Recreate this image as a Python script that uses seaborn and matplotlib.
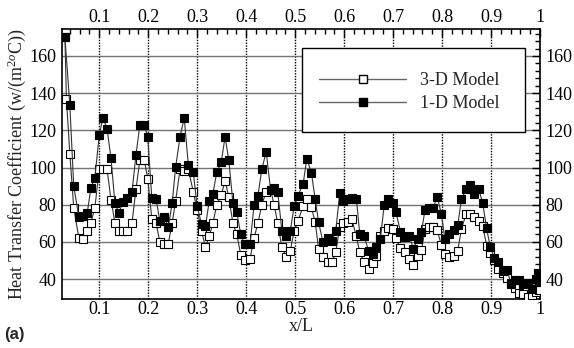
import matplotlib
matplotlib.use("Agg")
import matplotlib.pyplot as plt
import seaborn as sns
import pandas as pd
from matplotlib.ticker import MultipleLocator, FuncFormatter
from matplotlib.patches import Rectangle
from matplotlib.lines import Line2D

# ---------------- data ----------------
x_1d = [0.030, 0.040, 0.048, 0.0585, 0.0667, 0.0755, 0.083, 0.091, 0.100, 0.1075,
        0.116, 0.124, 0.132, 0.140, 0.148, 0.157, 0.167, 0.175, 0.183, 0.192,
        0.199, 0.2075, 0.216, 0.224, 0.233, 0.241, 0.249, 0.256, 0.265, 0.2735,
        0.282, 0.292, 0.300, 0.309, 0.317, 0.3245, 0.332, 0.340, 0.349, 0.357,
        0.3646, 0.373, 0.381, 0.389, 0.397, 0.408, 0.416, 0.424, 0.432, 0.441,
        0.450, 0.457, 0.4646, 0.473, 0.482, 0.490, 0.498, 0.5054, 0.5163, 0.5238,
        0.5333, 0.541, 0.548, 0.557, 0.5667, 0.575, 0.583, 0.591, 0.5986, 0.6075,
        0.6156, 0.625, 0.632, 0.641, 0.650, 0.658, 0.666, 0.674, 0.682, 0.690,
        0.6993, 0.706, 0.715, 0.724, 0.733, 0.7415, 0.750, 0.758, 0.7653, 0.774,
        0.782, 0.790, 0.7986, 0.806, 0.815, 0.824, 0.832, 0.8395, 0.849, 0.857,
        0.866, 0.8748, 0.883, 0.891, 0.8986, 0.9068, 0.915, 0.924, 0.9327, 0.941,
        0.949, 0.957, 0.966, 0.975, 0.9837, 0.9918, 0.9960, 0.9986]
h_1d = [170.0, 133.6, 89.9, 73.3, 73.8, 75.5, 89.0, 94.2, 117.4, 126.7,
        120.8, 105.1, 81.0, 75.5, 81.2, 83.6, 87.0, 106.6, 123.0, 123.0,
        116.5, 83.4, 83.0, 71.0, 73.3, 67.9, 80.9, 100.1, 116.5, 126.7,
        101.2, 97.4, 79.1, 69.5, 68.5, 81.8, 85.7, 97.4, 102.8, 116.5,
        103.9, 80.9, 75.8, 64.0, 58.6, 58.6, 79.6, 84.8, 99.2, 108.4,
        87.7, 89.0, 86.6, 65.8, 62.9, 65.8, 79.1, 84.8, 91.0, 104.8,
        97.1, 82.8, 70.5, 59.7, 62.0, 60.6, 66.0, 86.2, 81.9, 83.2,
        83.5, 83.2, 64.2, 62.9, 55.1, 53.4, 57.0, 61.5, 80.1, 83.2,
        80.8, 76.0, 65.4, 62.6, 62.9, 56.3, 61.7, 65.4, 77.4, 78.0,
        78.2, 84.4, 74.9, 61.3, 64.0, 66.3, 69.0, 82.8, 88.2, 90.5,
        85.5, 88.5, 80.8, 67.2, 57.0, 51.3, 49.1, 44.5, 44.7, 37.3,
        39.3, 39.3, 37.5, 37.7, 34.5, 39.8, 43.3, 38.6]

x_3d = [0.030, 0.033, 0.040, 0.048, 0.0585, 0.0667, 0.0755, 0.083, 0.091, 0.100,
        0.1075, 0.116, 0.124, 0.132, 0.140, 0.148, 0.157, 0.167, 0.175, 0.183,
        0.192, 0.199, 0.2075, 0.216, 0.224, 0.233, 0.241, 0.249, 0.256, 0.265,
        0.2735, 0.282, 0.292, 0.300, 0.309, 0.317, 0.3245, 0.332, 0.340, 0.349,
        0.357, 0.3646, 0.373, 0.381, 0.389, 0.397, 0.408, 0.416, 0.424, 0.432,
        0.441, 0.450, 0.457, 0.4646, 0.473, 0.482, 0.490, 0.498, 0.5054, 0.5163,
        0.5238, 0.5333, 0.541, 0.548, 0.557, 0.5667, 0.575, 0.583, 0.591, 0.5986,
        0.6075, 0.6156, 0.625, 0.632, 0.641, 0.650, 0.658, 0.666, 0.674, 0.682,
        0.690, 0.6993, 0.706, 0.715, 0.724, 0.733, 0.7415, 0.750, 0.758, 0.7653,
        0.774, 0.782, 0.790, 0.7986, 0.806, 0.815, 0.824, 0.832, 0.8395, 0.849,
        0.857, 0.866, 0.8748, 0.883, 0.891, 0.8986, 0.9068, 0.915, 0.924, 0.9327,
        0.941, 0.949, 0.957, 0.966, 0.975, 0.9837, 0.9918, 0.9986]
h_3d = [170.0, 137.0, 107.5, 78.2, 62.0, 61.3, 66.0, 70.4, 78.0, 99.2,
        99.2, 99.2, 82.7, 70.3, 65.8, 65.8, 65.8, 70.3, 88.2, 104.1,
        104.1, 94.0, 72.4, 70.3, 59.7, 58.8, 59.0, 70.3, 82.0, 99.0,
        98.0, 99.0, 87.0, 77.0, 66.0, 57.0, 63.0, 70.0, 80.0, 85.0,
        93.0, 84.0, 70.0, 64.0, 53.0, 50.0, 51.0, 62.0, 70.0, 80.0,
        87.0, 88.0, 80.0, 70.0, 57.0, 52.0, 55.0, 66.0, 71.0, 79.2,
        82.8, 78.5, 70.5, 56.1, 52.0, 49.0, 49.0, 54.3, 68.1, 70.0,
        70.8, 72.2, 63.0, 54.3, 49.3, 45.6, 48.4, 52.4, 63.1, 66.0,
        67.2, 66.7, 62.0, 56.7, 54.3, 50.6, 47.5, 52.4, 55.6, 66.7,
        68.1, 68.1, 66.3, 58.3, 53.4, 52.0, 52.4, 55.2, 67.0, 74.8,
        74.8, 73.5, 71.4, 68.5, 58.0, 53.8, 50.2, 45.6, 43.4, 40.4,
        37.7, 35.0, 32.3, 32.0, 30.2, 31.4, 33.2, 34.0]

x_ticks = [0.1, 0.2, 0.3, 0.4, 0.5, 0.6, 0.7, 0.8, 0.9, 1.0]
y_ticks = [40, 60, 80, 100, 120, 140, 160]
series_labels = ["3-D Model", "1-D Model"]

df3 = pd.DataFrame({"x": x_3d, "h": h_3d})
df1 = pd.DataFrame({"x": x_1d, "h": h_1d})

# ---------------- style ----------------
sns.set_theme(style="white")
plt.rcParams["font.family"] = ["Liberation Serif", "DejaVu Serif"]
plt.rcParams["mathtext.fontset"] = "custom"
plt.rcParams["mathtext.rm"] = "Liberation Serif"
plt.rcParams["mathtext.it"] = "Liberation Serif:italic"
FS = 13

fig = plt.figure(figsize=(5.74, 3.48), dpi=100)
ax = fig.add_axes([0.1080, 0.1420, 0.8328, 0.7747])

line_kw = dict(lw=0.8, color="0.2", marker="s", markersize=5.2,
               markeredgecolor="black", markeredgewidth=0.8)
sns.lineplot(data=df3, x="x", y="h", ax=ax, estimator=None, sort=False,
             markerfacecolor="white", zorder=3, **line_kw)
sns.lineplot(data=df1, x="x", y="h", ax=ax, estimator=None, sort=False,
             markerfacecolor="black", zorder=4, **line_kw)

ax.set_xlim(0.024, 1.0)
ax.set_ylim(29.5, 174.5)

ax.xaxis.set_major_locator(plt.FixedLocator(x_ticks))
ax.xaxis.set_minor_locator(MultipleLocator(0.02))
ax.yaxis.set_major_locator(plt.FixedLocator(y_ticks))
ax.yaxis.set_minor_locator(MultipleLocator(4))
ax.xaxis.set_major_formatter(FuncFormatter(lambda v, p: f"{v:g}"))
ax.yaxis.set_major_formatter(FuncFormatter(lambda v, p: f"{v:g}"))

ax.grid(axis="y", which="major", color="0.45", lw=1.0, ls="-", zorder=1)
ax.grid(axis="x", which="major", color="black", lw=1.0, ls=(0, (1, 1)), zorder=1)
ax.set_axisbelow(True)

ax.tick_params(which="both", direction="in", top=True, right=True,
               labeltop=True, labelright=True, colors="black",
               labelsize=FS, width=1)
ax.tick_params(which="major", length=6)
ax.tick_params(which="minor", length=3.5)
ax.tick_params(axis="x", which="major", pad=2)
ax.tick_params(axis="y", which="major", pad=4)
for s in ax.spines.values():
    s.set_color("black")
    s.set_linewidth(1.2)

ax.set_xlabel("x/L", fontsize=FS, labelpad=0)
ax.set_ylabel(r"Heat Transfer Coefficient (w/(m$^{2o}$C))", fontsize=FS, labelpad=1)

# legend box
ax.add_patch(Rectangle((0.502, 0.618), 0.4666, 0.3115, transform=ax.transAxes,
                       fill=True, facecolor="white", edgecolor="black", lw=1.0, zorder=5))
handles = [
    Line2D([], [], color="0.4", lw=1.0, marker="s", markersize=5.2,
           markerfacecolor="white", markeredgecolor="black"),
    Line2D([], [], color="0.4", lw=1.0, marker="s", markersize=5.2,
           markerfacecolor="black", markeredgecolor="black"),
]
leg = ax.legend(handles, series_labels, loc="upper left",
                bbox_to_anchor=(0.538, 0.84), frameon=False, fontsize=FS,
                handlelength=4.8, handletextpad=0.8, labelspacing=0.35,
                borderpad=0, borderaxespad=0)
leg.set_zorder(6)

fig.text(0.007, 0.025, "(a)", fontsize=12, fontweight="bold",
         family=["Liberation Sans", "DejaVu Sans"])

fig.savefig("out.png", dpi=100)
